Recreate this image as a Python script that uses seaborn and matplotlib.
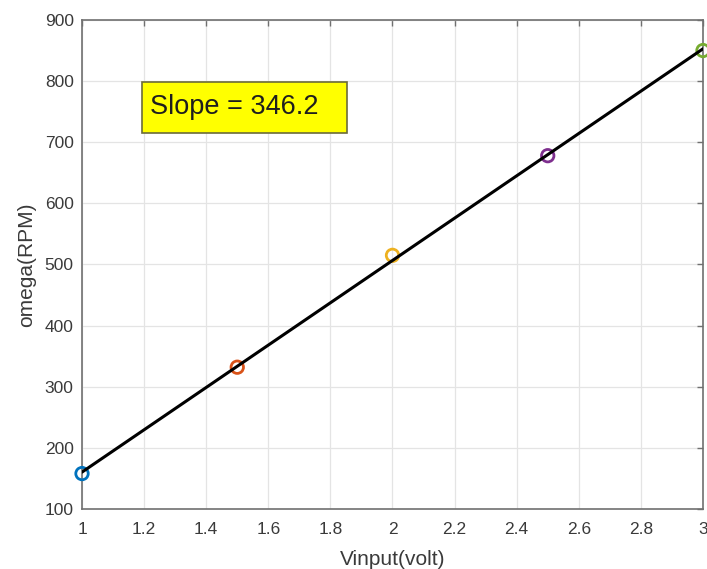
import numpy as np
import pandas as pd
import matplotlib
matplotlib.use("Agg")
import matplotlib.pyplot as plt
from matplotlib.patches import Rectangle
import seaborn as sns

# Measured motor speed against input voltage
vinput = [1.0, 1.5, 2.0, 2.5, 3.0]
omega = [158, 332, 515, 678, 850]
point_colors = ["#0072BD", "#D95319", "#EDB120", "#7E2F8E", "#77AC30"]
slope = 346.2
x_ticks = [1, 1.2, 1.4, 1.6, 1.8, 2, 2.2, 2.4, 2.6, 2.8, 3]
x_tick_labels = ["1", "1.2", "1.4", "1.6", "1.8", "2", "2.2", "2.4", "2.6", "2.8", "3"]
y_ticks = [100, 200, 300, 400, 500, 600, 700, 800, 900]

sns.set_style("white")
plt.rcParams["font.family"] = ["Liberation Sans", "DejaVu Sans"]

df = pd.DataFrame({"Vinput": vinput, "omega": omega,
                   "run": [str(i) for i in range(len(vinput))]})

# Straight line with the stated slope through the centroid of the data
intercept = np.mean(omega) - slope * np.mean(vinput)
fit = pd.DataFrame({"Vinput": [vinput[0], vinput[-1]]})
fit["omega"] = intercept + slope * fit["Vinput"]

fig = plt.figure(figsize=(7.07, 5.69), dpi=100)
ax = fig.add_axes([0.1160, 0.1054, 0.8783, 0.8595])

sns.scatterplot(data=df, x="Vinput", y="omega", hue="run",
                palette=point_colors, s=80, linewidth=2.0,
                legend=False, ax=ax, zorder=3)
pts = ax.collections[0]
pts.set_edgecolors(pts.get_facecolors())
pts.set_facecolors("none")
pts.set_clip_on(False)

sns.lineplot(data=fit, x="Vinput", y="omega", color="black",
             linewidth=2.2, ax=ax, zorder=4)

ax.set_xlim(1, 3)
ax.set_ylim(100, 900)
ax.set_xticks(x_ticks)
ax.set_xticklabels(x_tick_labels)
ax.set_yticks(y_ticks)

ax.grid(True, color="#e4e4e4", linewidth=0.9)
ax.set_axisbelow(True)
for side in ["left", "right", "top", "bottom"]:
    ax.spines[side].set_visible(True)
    ax.spines[side].set_color("#707070")
    ax.spines[side].set_linewidth(1.2)

ax.tick_params(axis="both", direction="in", length=4, width=1,
               color="#707070", labelsize=12.5, labelcolor="#3a3a3a",
               top=True, right=True)
ax.tick_params(axis="x", pad=9)
ax.tick_params(axis="y", pad=6)

ax.set_xlabel("Vinput(volt)", fontsize=15, color="#3a3a3a", labelpad=10)
ax.set_ylabel("omega(RPM)", fontsize=15, color="#3a3a3a", labelpad=6)

# Annotation box with the slope of the fitted line
ax.add_patch(Rectangle((1.193, 715), 0.66, 84, facecolor="#ffff00",
                       edgecolor="#6b6b3a", linewidth=1.2, zorder=5))
ax.text(1.219, 758, f"Slope = {slope:.1f}", fontsize=19.5, color="#1e1e1e",
        va="center", ha="left", zorder=6)

fig.savefig("out.png", dpi=100)
